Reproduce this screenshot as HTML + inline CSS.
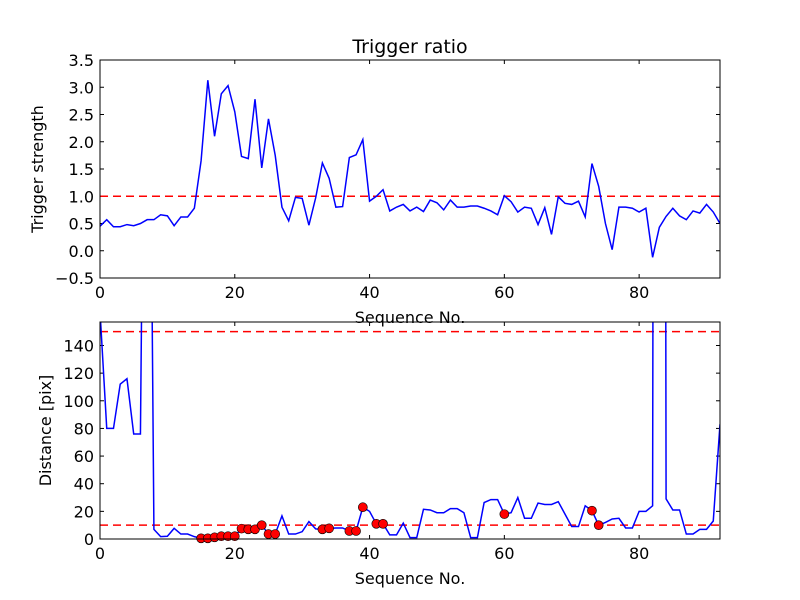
<!DOCTYPE html>
<html><head><meta charset="utf-8">
<style>
html,body{margin:0;padding:0;background:#fff;}
svg{display:block;font-family:"DejaVu Sans","Liberation Sans",sans-serif;}
</style></head>
<body>
<svg id="fig" width="800" height="600" viewBox="0 0 800 600" xmlns="http://www.w3.org/2000/svg">
<rect x="0" y="0" width="800" height="600" fill="#fff"/>
<defs>
<clipPath id="clipTop"><rect x="100" y="60" width="620" height="218"/></clipPath>
<clipPath id="clipBot"><rect x="100" y="322" width="620" height="217"/></clipPath>
</defs>
<text x="410" y="53" font-size="19" text-anchor="middle">Trigger ratio</text>
<g id="top"></g>
<g id="bot"></g>
</svg>
<script>
const seq = Array.from({length:93},(_,i)=>i);
const strength = [0.45,0.57,0.44,0.44,0.48,0.46,0.5,0.57,0.57,0.66,0.64,0.46,0.62,0.62,0.78,1.65,3.13,2.1,2.88,3.03,2.55,1.73,1.69,2.78,1.52,2.42,1.75,0.8,0.55,0.98,0.96,0.47,0.97,1.61,1.33,0.8,0.81,1.71,1.76,2.04,0.91,1.0,1.12,0.73,0.8,0.85,0.73,0.8,0.72,0.93,0.88,0.75,0.93,0.8,0.8,0.82,0.82,0.78,0.73,0.66,1.01,0.9,0.71,0.8,0.78,0.48,0.79,0.3,0.99,0.87,0.85,0.91,0.62,1.6,1.18,0.5,0.02,0.8,0.8,0.78,0.71,0.78,-0.12,0.43,0.63,0.78,0.64,0.57,0.73,0.69,0.85,0.71,0.5];
const distance = [165,80,80,112,116,76,76,600,7,1.7,2,7.7,3.6,3.6,1.7,0.5,0.5,1.2,2,2,2,7.5,7,7,10,3.6,3.6,16.7,3.6,3.6,5.3,12.6,7.3,7,7.7,8,8,5.8,5.8,23,20,11,11,3,3,11.5,1,1,21.5,21,19,19,22,22,19,1,1,26.4,28.5,28.5,18,19,30,15,15,26,25,25,27,18,9,9,24,20.5,10,12,14.5,15,8,8,20,20,24,3000,29,21,21,3.6,3.6,7,7,13,83];
const markedIdx = [15,16,17,18,19,20,21,22,23,24,25,26,33,34,37,38,39,41,42,60,73,74];
const topYTicks = [-0.5,0.0,0.5,1.0,1.5,2.0,2.5,3.0,3.5];
const botYTicks = [0,20,40,60,80,100,120,140];
const xTicks = [0,20,40,60,80];
const topThresh = [1.0];
const botThresh = [10,150];

const NS="http://www.w3.org/2000/svg";
function el(tag,attrs,parent){const e=document.createElementNS(NS,tag);for(const k in attrs)e.setAttribute(k,attrs[k]);parent.appendChild(e);return e;}
const L=100,R=720;
const xs=v=>L+(v-0)/(92-0)*(R-L);

function axes(g,top,bot,ymin,ymax,yticks,yfmt,ylabel,ylabelX,prefix){
  const ys=v=>bot-(v-ymin)/(ymax-ymin)*(bot-top);
  xTicks.forEach(t=>{
    const x=xs(t);
    const a=el('line',{x1:x,x2:x,y1:bot,y2:bot-4,stroke:'#000'},g);
    
    
    el('line',{x1:x,x2:x,y1:top,y2:top+4,stroke:'#000'},g);
    const tx=el('text',{x:x,y:bot+20,'font-size':16,'text-anchor':'middle'},g);
    tx.textContent=t;
    
    
  });
  yticks.forEach(t=>{
    const y=ys(t);
    const a=el('line',{x1:L,x2:L+4,y1:y,y2:y,stroke:'#000'},g);
    
    
    el('line',{x1:R,x2:R-4,y1:y,y2:y,stroke:'#000'},g);
    const tx=el('text',{x:L-6,y:y+6,'font-size':16,'text-anchor':'end'},g);
    tx.textContent=yfmt(t);
    
    
  });
  const xl=el('text',{x:410,y:bot+45,'font-size':16,'text-anchor':'middle'},g);
  xl.textContent='Sequence No.';
  
  
  const cy=(top+bot)/2;
  const yl=el('text',{x:ylabelX,y:cy,'font-size':16,'text-anchor':'middle',transform:`rotate(-90 ${ylabelX} ${cy})`},g);
  yl.textContent=ylabel;
  
  
  return ys;
}

const gt=document.getElementById('top');
const ysT=axes(gt,60,278,-0.5,3.5,topYTicks,t=>t.toFixed(1).replace('-','\u2212'),'Trigger strength',43,'top');
const ct=el('g',{'clip-path':'url(#clipTop)'},gt);
topThresh.forEach(v=>{
  const l=el('line',{x1:L,x2:R,y1:ysT(v),y2:ysT(v),stroke:'#ff0000','stroke-width':1.5,'stroke-dasharray':'8,5'},ct);
  
  
});
const pt=el('polyline',{points:seq.map((s,i)=>xs(s)+','+ysT(strength[i])).join(' '),fill:'none',stroke:'#0000ff','stroke-width':1.5},ct);


const ft=el('rect',{x:L,y:60,width:R-L,height:218,fill:'none',stroke:'#000','stroke-width':1},gt);



const gb=document.getElementById('bot');
const ysB=axes(gb,322,539,0,157,botYTicks,t=>String(t),'Distance [pix]',51,'bottom');
const cb=el('g',{'clip-path':'url(#clipBot)'},gb);
botThresh.forEach(v=>{
  const l=el('line',{x1:L,x2:R,y1:ysB(v),y2:ysB(v),stroke:'#ff0000','stroke-width':1.5,'stroke-dasharray':'8,5'},cb);
  
  
});
const pb=el('polyline',{points:seq.map((s,i)=>xs(s)+','+ysB(distance[i])).join(' '),fill:'none',stroke:'#0000ff','stroke-width':1.5},cb);


markedIdx.forEach(i=>{
  const c=el('circle',{cx:xs(seq[i]),cy:ysB(distance[i]),r:4.5,fill:'#ff0000',stroke:'#000','stroke-width':0.6},gb);
  
  
});
const fb=el('rect',{x:L,y:322,width:R-L,height:217,fill:'none',stroke:'#000','stroke-width':1},gb);


</script>
</body></html>
